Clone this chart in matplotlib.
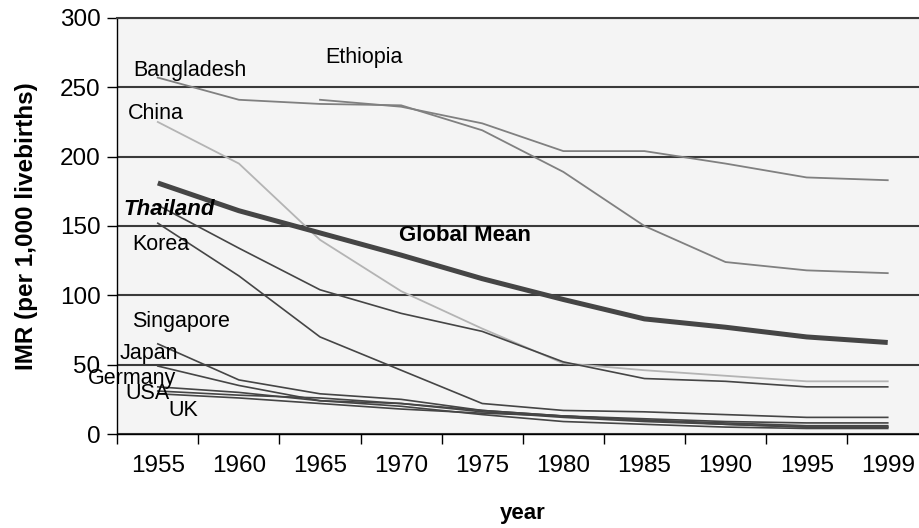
import numpy as np
import matplotlib
matplotlib.use("Agg")
import matplotlib.pyplot as plt

plt.rcParams['font.family'] = ['Liberation Sans', 'DejaVu Sans']

# ---- data (IMR per 1,000 livebirths) ----
years = ["1955", "1960", "1965", "1970", "1975", "1980", "1985", "1990", "1995", "1999"]
bangladesh = [257, 241, 238, 237, 219, 189, 150, 124, 118, 116]
ethiopia = [np.nan, np.nan, 241, 236, 224, 204, 204, 195, 185, 183]
china = [225, 195, 140, 103, 76, 51, 46, 42, 38, 38]
thailand = [165, 134, 104, 87, 74, 52, 40, 38, 34, 34]
korea = [152, 114, 70, 46, 22, 17, 16, 14, 12, 12]
singapore = [65, 39, 29, 25, 17, 13, 10, 7, 5, 5]
japan = [49, 35, 24, 20, 14, 9, 7, 5, 4, 4]
germany = [34, 30, 24, 22, 16, 12, 9, 7, 5, 5]
usa = [31, 28, 26, 22, 17, 13, 11, 9, 8, 8]
uk = [29, 26, 22, 18, 15, 13, 10, 8, 6, 6]
global_mean = [181, 161, 145, 129, 112, 97, 83, 77, 70, 66]

yticks = [0, 50, 100, 150, 200, 250, 300]

# ---- figure ----
fig = plt.figure(figsize=(9.19, 5.28), dpi=100)
ax = fig.add_axes([0.1276, 0.178, 0.8825, 0.788])
ax.set_facecolor('#f4f4f4')

x = np.arange(len(years)) + 0.5

mid = '#808080'
light = '#b4b4b4'
dark = '#454545'

ax.plot(x, bangladesh, color=mid, lw=1.3)
ax.plot(x, ethiopia, color=mid, lw=1.3)
ax.plot(x, china, color=light, lw=1.3)
for s in (thailand, korea, singapore, japan, germany, usa, uk):
    ax.plot(x, s, color=dark, lw=1.2)
ax.plot(x, global_mean, color=dark, lw=3.6, solid_capstyle='butt')

ax.set_xlim(0, len(years))
ax.set_ylim(0, 300)

# grid
ax.set_yticks(yticks)
ax.yaxis.grid(True, color='#3a3a3a', lw=1.5)
ax.set_axisbelow(True)

ax.spines['right'].set_visible(False)
ax.spines['top'].set_color('#3a3a3a')
ax.spines['top'].set_linewidth(1.5)
ax.spines['left'].set_color('black')
ax.spines['bottom'].set_color('black')
ax.spines['left'].set_linewidth(1.0)
ax.spines['bottom'].set_linewidth(1.0)

# x ticks: marks at boundaries, labels at centres
ax.set_xticks(np.arange(0, len(years) + 1))
ax.set_xticklabels([])
ax.set_xticks(x, minor=True)
ax.set_xticklabels(years, minor=True, fontsize=17.5)
ax.tick_params(axis='x', which='major', length=7, width=1, direction='out', color='black')
ax.tick_params(axis='x', which='minor', length=0, pad=15)
ax.tick_params(axis='y', length=7, width=1, direction='out', color='black', labelsize=17.5, pad=5)

ax.set_xlabel('year', fontsize=16, fontweight='bold', labelpad=19)
ax.set_ylabel('IMR (per 1,000 livebirths)', fontsize=17.5, fontweight='bold', labelpad=16)

# country labels
lab_names = ['Bangladesh', 'Ethiopia', 'China', 'Thailand', 'Korea', 'Global Mean',
             'Singapore', 'Japan', 'Germany', 'USA', 'UK']
lab_x = [0.194, 2.567, 0.129, 0.074, 0.182, 3.47, 0.185, 0.025, -0.362, 0.095, 0.63]
lab_y = [261.8, 271.2, 230.8, 162.1, 136.3, 142.8, 81.0, 57.7, 40.2, 29.4, 17.3]
for name, lx, ly in zip(lab_names, lab_x, lab_y):
    kw = dict(fontsize=15.5, color='black', ha='left', va='center')
    if name == 'Thailand':
        kw.update(fontweight='bold', style='italic', fontsize=16)
    elif name == 'Global Mean':
        kw.update(fontweight='bold', fontsize=16)
    ax.text(lx, ly, name, **kw)

fig.savefig('out.png', dpi=100)
